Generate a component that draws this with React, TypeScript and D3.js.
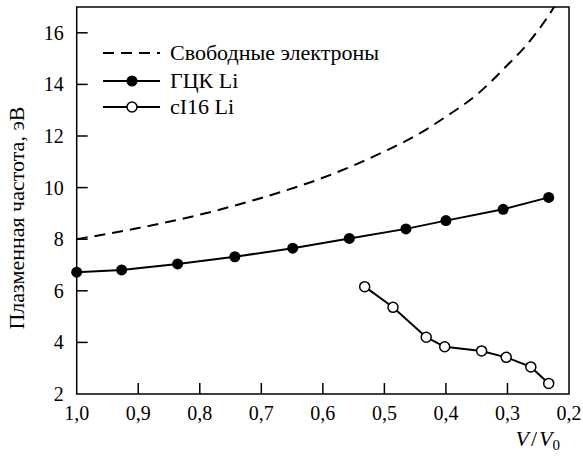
import React from 'react';
import * as d3 from 'd3';

// свободные электроны (штриховая)
const freeX = [1.0, 0.9, 0.8, 0.7, 0.6, 0.5, 0.45, 0.4, 0.35, 0.3, 0.27, 0.25, 0.229, 0.223];
const freeY = [8.0, 8.43, 8.95, 9.6, 10.38, 11.4, 12.0, 12.75, 13.6, 14.75, 15.5, 16.1, 16.82, 17.05];

// ГЦК Li
const fccX = [1.0, 0.927, 0.836, 0.743, 0.649, 0.557, 0.465, 0.4, 0.307, 0.233];
const fccY = [6.72, 6.81, 7.04, 7.32, 7.65, 8.03, 8.4, 8.72, 9.16, 9.62];

// cI16 Li
const ciX = [0.532, 0.486, 0.432, 0.402, 0.342, 0.302, 0.262, 0.233];
const ciY = [6.16, 5.36, 4.2, 3.83, 3.67, 3.42, 3.05, 2.41];

const xTicks = [1.0, 0.9, 0.8, 0.7, 0.6, 0.5, 0.4, 0.3, 0.2];
const yTicks = [2, 4, 6, 8, 10, 12, 14, 16];

const legendLabels = ['Свободные электроны', 'ГЦК Li', 'cI16 Li'];

const App = () => {
  const Width = 583;
  const Height = 457;
  const margin = { top: 7, right: 14, bottom: 63, left: 76.7 };
  const chartWidth = Width - margin.left - margin.right;
  const chartHeight = Height - margin.top - margin.bottom;
  const font = "'Liberation Serif', 'Times New Roman', serif";

  const xScale = d3.scaleLinear().domain([1.0, 0.2]).range([0, chartWidth]);
  const yScale = d3.scaleLinear().domain([2, 17]).range([chartHeight, 0]);

  const line = d3
    .line<[number, number]>()
    .x((d) => xScale(d[0]))
    .y((d) => yScale(d[1]));
  const smooth = d3
    .line<[number, number]>()
    .x((d) => xScale(d[0]))
    .y((d) => yScale(d[1]))
    .curve(d3.curveMonotoneX);

  const freeData = freeX.map((x, i) => [x, freeY[i]] as [number, number]);
  const fccData = fccX.map((x, i) => [x, fccY[i]] as [number, number]);
  const ciData = ciX.map((x, i) => [x, ciY[i]] as [number, number]);

  const fmt = (v: number) => v.toFixed(1).replace('.', ',');
  const tickLen = 11;
  const tickTxt = { fontSize: '20px', fontFamily: font };
  const bigTxt = { fontSize: '22px', fontFamily: font };

  return (
    <svg width={Width} height={Height} style={{ position: 'absolute', left: 0, top: 0, background: '#fff', fontFamily: font }}>
      <rect x={0} y={0} width={Width} height={Height} fill="#fff" />
      <g transform={`translate(${margin.left}, ${margin.top})`}>
        <defs>
          <clipPath id="plotClip">
            <rect x={0} y={0} width={chartWidth} height={chartHeight} />
          </clipPath>
        </defs>

        {/* рамка */}
        <rect x={0} y={0} width={chartWidth} height={chartHeight} fill="none" stroke="#000" strokeWidth={1.5} />

        {/* ось x */}
        {xTicks.map((t, i) => (
          <g key={i} transform={`translate(${xScale(t)}, 0)`}>
            {i > 0 && i < xTicks.length - 1 && (
              <line y1={chartHeight} y2={chartHeight - tickLen} stroke="#000" strokeWidth={1.5} />
            )}
            <text y={chartHeight + 26} textAnchor="middle" style={tickTxt}>
              {fmt(t)}
            </text>
          </g>
        ))}

        {/* ось y */}
        {yTicks.map((t, i) => (
          <g key={i} transform={`translate(0, ${yScale(t)})`}>
            {i > 0 && <line x1={0} x2={tickLen} stroke="#000" strokeWidth={1.5} />}
            <text x={-13} dy="0.35em" textAnchor="end" style={tickTxt}>
              {t}
            </text>
          </g>
        ))}

        <text
          transform={`translate(${24 - margin.left}, ${218 - margin.top}) rotate(-90)`}
          textAnchor="middle"
          style={bigTxt}
        >
          Плазменная частота, эВ
        </text>

        <text x={chartWidth - 9} y={chartHeight + 52} textAnchor="end" style={bigTxt}>
          <tspan fontStyle="italic">V</tspan>
          <tspan dx={2}>/</tspan>
          <tspan dx={2} fontStyle="italic">V</tspan>
          <tspan dy={4} style={{ fontSize: '15px' }}>0</tspan>
        </text>

        {/* кривые */}
        <g clipPath="url(#plotClip)">
          <path d={smooth(freeData) || ''} fill="none" stroke="#000" strokeWidth={2} strokeDasharray="11,7" />
        </g>
        <path d={line(fccData) || ''} fill="none" stroke="#000" strokeWidth={2} />
        {fccData.map((d, i) => (
          <circle key={i} cx={xScale(d[0])} cy={yScale(d[1])} r={5.5} fill="#000" />
        ))}
        <path d={line(ciData) || ''} fill="none" stroke="#000" strokeWidth={2} />
        {ciData.map((d, i) => (
          <circle key={i} cx={xScale(d[0])} cy={yScale(d[1])} r={5} fill="#fff" stroke="#000" strokeWidth={1.5} />
        ))}

        {/* легенда */}
        <g transform={`translate(${103 - margin.left}, ${53 - margin.top})`}>
          {legendLabels.map((label, i) => (
            <g key={i} transform={`translate(0, ${i === 0 ? 0 : i === 1 ? 28 : 54})`}>
              <line x1={0} x2={57} stroke="#000" strokeWidth={2} strokeDasharray={i === 0 ? '11,7' : undefined} />
              {i === 1 && <circle cx={29} cy={0} r={5.5} fill="#000" />}
              {i === 2 && <circle cx={29} cy={0} r={5} fill="#fff" stroke="#000" strokeWidth={1.5} />}
              <text x={67} dy="0.33em" style={bigTxt}>
                {label}
              </text>
            </g>
          ))}
        </g>
      </g>
    </svg>
  );
};

export default App;
